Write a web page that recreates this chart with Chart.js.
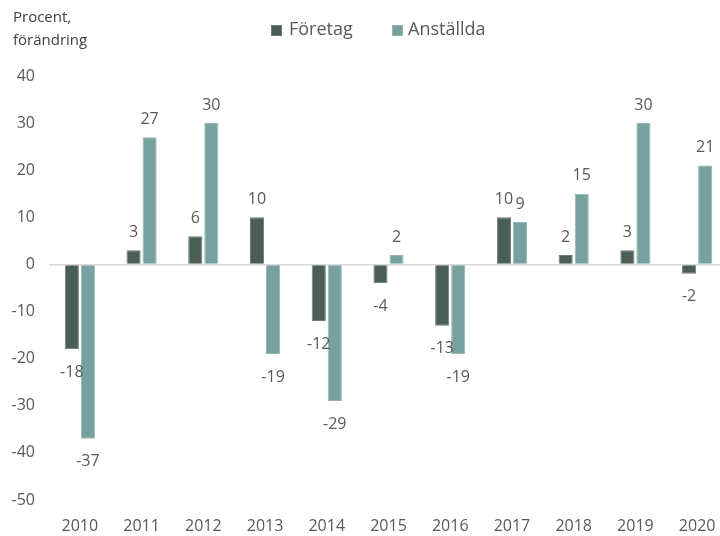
<!DOCTYPE html>
<html><head><meta charset="utf-8">
<script src="https://cdn.jsdelivr.net/npm/chart.js@4"></script>
<style>html,body{margin:0;padding:0;overflow:hidden;background:#fff}#wrap{width:736px;height:536px}</style>
</head><body><div id="wrap"><canvas id="c" width="736" height="536"></canvas></div>
<script>
const years = ['2010','2011','2012','2013','2014','2015','2016','2017','2018','2019','2020'];
const foretag = [-18, 3, 6, 10, -12, -4, -13, 10, 2, 3, -2];
const anstallda = [-37, 27, 30, -19, -29, 2, -19, 9, 15, 30, 21];
const yTicks = [40, 30, 20, 10, 0, -10, -20, -30, -40, -50];
const axisTitle = ['Procent,', 'förändring'];
const seriesNames = ['Företag', 'Anställda'];

const FONT = '"Open Sans", "Noto Sans", sans-serif';
const GREY = '#595959';

const labelPlugin = {
  id: 'barLabels',
  afterDatasetsDraw(chart) {
    const ctx = chart.ctx;
    ctx.save();
    ctx.font = '16px ' + FONT;
    ctx.fillStyle = GREY;
    ctx.textAlign = 'center';
    ctx.textBaseline = 'middle';
    chart.data.datasets.forEach((ds, di) => {
      const meta = chart.getDatasetMeta(di);
      meta.data.forEach((bar, i) => {
        const v = ds.data[i];
        const y = v >= 0 ? bar.y - 18 : bar.y + 23;
        ctx.fillText(String(Math.round(v)), bar.x, y);
      });
    });
    ctx.restore();
  }
};

const titleLegendPlugin = {
  id: 'titleLegend',
  afterDraw(chart) {
    const ctx = chart.ctx;
    ctx.save();
    ctx.font = '15px ' + FONT;
    ctx.fillStyle = '#404040';
    ctx.textAlign = 'left';
    ctx.textBaseline = 'middle';
    ctx.fillText(axisTitle[0], 13, 18);
    ctx.fillText(axisTitle[1], 13, 41);
    // legend
    ctx.font = '18px ' + FONT;
    const boxX = [271, 392];
    const textX = [289, 408];
    chart.data.datasets.forEach((ds, i) => {
      const x = boxX[i];
      ctx.fillStyle = ds.backgroundColor;
      ctx.fillRect(x, 25, 11, 11);
      ctx.strokeStyle = ds.borderColor;
      ctx.lineWidth = 1;
      ctx.strokeRect(x + 0.5, 25.5, 10, 10);
      ctx.fillStyle = GREY;
      ctx.fillText(ds.label, textX[i], 30);
    });
    ctx.restore();
  }
};

new Chart(document.getElementById('c'), {
  type: 'bar',
  data: {
    labels: years,
    datasets: [
      { label: seriesNames[0], data: foretag, backgroundColor: '#4a5e57', borderColor: '#6b7d77', borderWidth: 1, categoryPercentage: 0.52, barPercentage: 0.88 },
      { label: seriesNames[1], data: anstallda, backgroundColor: '#76a19e', borderColor: '#93b7b4', borderWidth: 1, categoryPercentage: 0.52, barPercentage: 0.88 }
    ]
  },
  options: {
    responsive: false,
    animation: false,
    devicePixelRatio: 1,
    layout: { padding: { top: 76, right: 8, left: 0, bottom: 0 } },
    plugins: {
      legend: { display: false },
      tooltip: { enabled: false }
    },
    scales: {
      x: {
        grid: { display: false, drawTicks: false },
        border: { display: false },
        ticks: { font: { family: FONT, size: 16 }, color: GREY, padding: 17, maxRotation: 0 },
        afterFit(s) { s.height = 36; }
      },
      y: {
        min: -50, max: 40,
        afterBuildTicks(s) { s.ticks = yTicks.map(v => ({ value: v })); },
        grid: {
          drawTicks: false,
          color: ctx => ctx.tick && ctx.tick.value === 0 ? '#d9d9d9' : 'rgba(0,0,0,0)',
          lineWidth: 1.5
        },
        border: { display: false },
        ticks: { font: { family: FONT, size: 16 }, color: GREY, padding: 14 },
        afterFit(s) { s.width = 49; }
      }
    }
  },
  plugins: [labelPlugin, titleLegendPlugin]
});
</script></body></html>
